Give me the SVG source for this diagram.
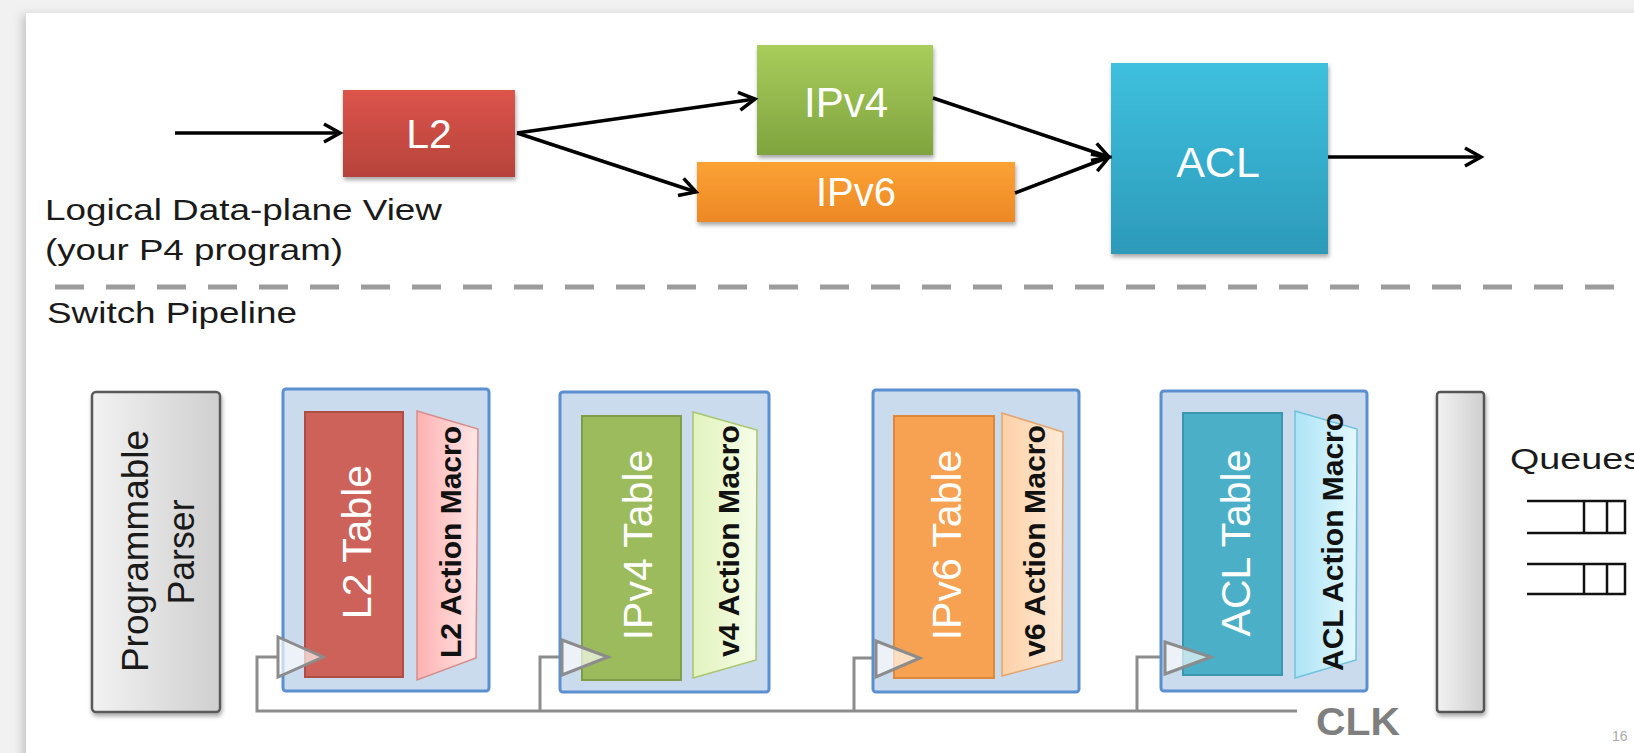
<svg xmlns="http://www.w3.org/2000/svg" width="1634" height="753" viewBox="0 0 1634 753">
<style>
.lbl{font-family:"Liberation Sans",Arial,sans-serif;fill:#1a1a1a}
.wt{font-family:"Liberation Sans",Arial,sans-serif;fill:#ffffff;text-anchor:middle}
.mac{font-family:"Liberation Sans",Arial,sans-serif;fill:#111;font-weight:bold;font-size:30px;text-anchor:middle}
.conn{fill:none;stroke:#000;stroke-width:3.5}
.stage{fill:#c9dbec;stroke:#5b8fd0;stroke-width:3}
.clk{fill:none;stroke:#8c8c8c;stroke-width:3}
.tri{fill:#ffffff;fill-opacity:0.65;stroke:#8c8c8c;stroke-width:3}
.q{fill:none;stroke:#111;stroke-width:2.5}
</style>
<defs>
<filter id="sh" x="-10%" y="-10%" width="130%" height="140%">
<feDropShadow dx="1" dy="3" stdDeviation="2" flood-color="#000" flood-opacity="0.35"/>
</filter>
<filter id="psh" x="-5%" y="-5%" width="110%" height="110%">
<feDropShadow dx="-4" dy="2" stdDeviation="5" flood-color="#000" flood-opacity="0.18"/>
</filter>
<marker id="arr" viewBox="-20 -12 24 24" refX="0" refY="0" markerWidth="24" markerHeight="24" markerUnits="userSpaceOnUse" orient="auto">
<path d="M-16,-9 L0,0 L-16,9" fill="none" stroke="#000" stroke-width="3.5"/>
</marker>
<linearGradient id="gRed" x1="0" y1="0" x2="0" y2="1"><stop offset="0" stop-color="#dc544a"/><stop offset="1" stop-color="#b6433c"/></linearGradient>
<linearGradient id="gGreen" x1="0" y1="0" x2="0" y2="1"><stop offset="0" stop-color="#a9cd5b"/><stop offset="1" stop-color="#7fa43f"/></linearGradient>
<linearGradient id="gOrange" x1="0" y1="0" x2="0" y2="1"><stop offset="0" stop-color="#fca233"/><stop offset="1" stop-color="#ec8826"/></linearGradient>
<linearGradient id="gBlue" x1="0" y1="0" x2="0" y2="1"><stop offset="0" stop-color="#3ec0de"/><stop offset="1" stop-color="#2d9aba"/></linearGradient>
<linearGradient id="gGray" x1="0" y1="0" x2="1" y2="0"><stop offset="0" stop-color="#f2f2f2"/><stop offset="1" stop-color="#cfcfcf"/></linearGradient>
<linearGradient id="mRed" x1="0" y1="0" x2="1" y2="0"><stop offset="0" stop-color="#ffb2b2"/><stop offset="1" stop-color="#ffe6e6"/></linearGradient>
<linearGradient id="mGreen" x1="0" y1="0" x2="1" y2="0"><stop offset="0" stop-color="#e2f3bd"/><stop offset="1" stop-color="#f6fce8"/></linearGradient>
<linearGradient id="mOrange" x1="0" y1="0" x2="1" y2="0"><stop offset="0" stop-color="#fcd0a6"/><stop offset="1" stop-color="#feebd9"/></linearGradient>
<linearGradient id="mCyan" x1="0" y1="0" x2="1" y2="0"><stop offset="0" stop-color="#ade4f6"/><stop offset="1" stop-color="#e4f8fd"/></linearGradient>
</defs>

<!-- background -->
<rect x="0" y="0" width="1634" height="753" fill="#f1f1f1"/>
<rect x="26" y="13" width="1640" height="760" fill="#ffffff" filter="url(#psh)"/>

<!-- texts / labels -->
<g id="labels">
<text class="lbl" x="45" y="220" font-size="29" textLength="397" lengthAdjust="spacingAndGlyphs">Logical Data-plane View</text>
<text class="lbl" x="45" y="260" font-size="29" textLength="298" lengthAdjust="spacingAndGlyphs">(your P4 program)</text>
<text class="lbl" x="47" y="323" font-size="29" textLength="250" lengthAdjust="spacingAndGlyphs">Switch Pipeline</text>
<line x1="55" y1="287" x2="1614" y2="287" stroke="#9c9c9c" stroke-width="5" stroke-dasharray="29 22"/>
</g>

<!-- logical view nodes -->
<g id="n-l2">
<rect x="343" y="90" width="172" height="87" fill="url(#gRed)" filter="url(#sh)"/>
<text class="wt" x="429" y="148" font-size="41">L2</text>
</g>
<g id="n-ipv4">
<rect x="757" y="45" width="176" height="110" fill="url(#gGreen)" filter="url(#sh)"/>
<text class="wt" x="846" y="117" font-size="42">IPv4</text>
</g>
<g id="n-ipv6">
<rect x="697" y="162" width="318" height="60" fill="url(#gOrange)" filter="url(#sh)"/>
<text class="wt" x="856" y="206" font-size="40">IPv6</text>
</g>
<g id="n-acl">
<rect x="1111" y="63" width="217" height="191" fill="url(#gBlue)" filter="url(#sh)"/>
<text class="wt" x="1218" y="177" font-size="43">ACL</text>
</g>

<g id="connectors">
<line class="conn" x1="175" y1="133" x2="340" y2="133" marker-end="url(#arr)"/>
<line class="conn" x1="517" y1="133" x2="755" y2="99" marker-end="url(#arr)"/>
<line class="conn" x1="517" y1="133" x2="696" y2="192" marker-end="url(#arr)"/>
<line class="conn" x1="933" y1="98" x2="1109" y2="157" marker-end="url(#arr)"/>
<line class="conn" x1="1015" y1="193" x2="1109" y2="157" marker-end="url(#arr)"/>
<line class="conn" x1="1328" y1="157" x2="1481" y2="157" marker-end="url(#arr)"/>
<path class="clk" d="M278,657 H257 V711 H1297"/>
<path class="clk" d="M540,711 V657 H562"/>
<path class="clk" d="M854,711 V658 H876"/>
<path class="clk" d="M1137,711 V657 H1165"/>
</g>

<!-- switch pipeline -->
<g id="n-parser">
<rect x="92" y="392" width="128" height="320" rx="4" fill="url(#gGray)" stroke="#5a5a5a" stroke-width="2.5" filter="url(#sh)"/>
<text class="lbl" transform="translate(148,551) rotate(-90)" font-size="36" text-anchor="middle" textLength="242" lengthAdjust="spacingAndGlyphs">Programmable</text>
<text class="lbl" transform="translate(194,552) rotate(-90)" font-size="36" text-anchor="middle" textLength="105" lengthAdjust="spacingAndGlyphs">Parser</text>
</g>

<g id="n-stage-l2">
<rect class="stage" x="283" y="389" width="206" height="302" rx="3"/>
<rect x="305" y="412" width="98" height="265" fill="#cd625a" stroke="#b04e46" stroke-width="2"/>
<text class="wt" transform="translate(371,542) rotate(-90)" font-size="41">L2 Table</text>
<polygon points="417,411 478,429 476,658 417,680" fill="url(#mRed)" stroke="#d98c8c" stroke-width="1.5"/>
<text class="mac" transform="translate(461,542) rotate(-90)" textLength="232" lengthAdjust="spacingAndGlyphs">L2 Action Macro</text>
<polygon class="tri" points="278,637 323,657 278,677"/>
</g>

<g id="n-stage-ipv4">
<rect class="stage" x="560" y="392" width="209" height="300" rx="3"/>
<rect x="582" y="416" width="99" height="264" fill="#9cbb5c" stroke="#7f9e47" stroke-width="2"/>
<text class="wt" transform="translate(652,545) rotate(-90)" font-size="41">IPv4 Table</text>
<polygon points="693,412 757,430 756,660 693,678" fill="url(#mGreen)" stroke="#a9c56e" stroke-width="1.5"/>
<text class="mac" transform="translate(739,541) rotate(-90)" textLength="232" lengthAdjust="spacingAndGlyphs">v4 Action Macro</text>
<polygon class="tri" points="562,640 608,657 562,675"/>
</g>

<g id="n-stage-ipv6">
<rect class="stage" x="873" y="390" width="206" height="302" rx="3"/>
<rect x="894" y="416" width="100" height="262" fill="#f7a252" stroke="#df883a" stroke-width="2"/>
<text class="wt" transform="translate(961,545) rotate(-90)" font-size="41">IPv6 Table</text>
<polygon points="1002,413 1063,432 1062,660 1002,676" fill="url(#mOrange)" stroke="#e6a46c" stroke-width="1.5"/>
<text class="mac" transform="translate(1045,541) rotate(-90)" textLength="232" lengthAdjust="spacingAndGlyphs">v6 Action Macro</text>
<polygon class="tri" points="876,641 920,658 876,677"/>
</g>

<g id="n-stage-acl">
<rect class="stage" x="1161" y="391" width="206" height="300" rx="3"/>
<rect x="1183" y="413" width="99" height="262" fill="#4aafc7" stroke="#3996ac" stroke-width="2"/>
<text class="wt" transform="translate(1250,543) rotate(-90)" font-size="41">ACL Table</text>
<polygon points="1295,411 1357,429 1356,660 1295,678" fill="url(#mCyan)" stroke="#6fc3dd" stroke-width="1.5"/>
<text class="mac" transform="translate(1343,542) rotate(-90)" textLength="258" lengthAdjust="spacingAndGlyphs">ACL Action Macro</text>
<polygon class="tri" points="1165,642 1211,657 1165,674"/>
</g>

<g id="clk-label">
<text x="1316" y="735" font-family="Liberation Sans, Arial, sans-serif" font-weight="bold" font-size="38" fill="#7f7f7f" textLength="84" lengthAdjust="spacingAndGlyphs">CLK</text>
</g>

<g id="n-deparser">
<rect x="1437" y="392" width="47" height="320" rx="3" fill="url(#gGray)" stroke="#555" stroke-width="2.5" filter="url(#sh)"/>
</g>

<g id="n-queues">
<text class="lbl" x="1510" y="469" font-size="29" textLength="132" lengthAdjust="spacingAndGlyphs">Queues</text>
<path class="q" d="M1527,501 H1625 V533 H1527 M1584,501 V533 M1607,501 V533"/>
<path class="q" d="M1527,564 H1625 V594 H1527 M1584,564 V594 M1607,564 V594"/>
</g>

<text x="1612" y="741" font-family="Liberation Sans, Arial, sans-serif" font-size="14" fill="#aaaaaa">16</text>
</svg>
